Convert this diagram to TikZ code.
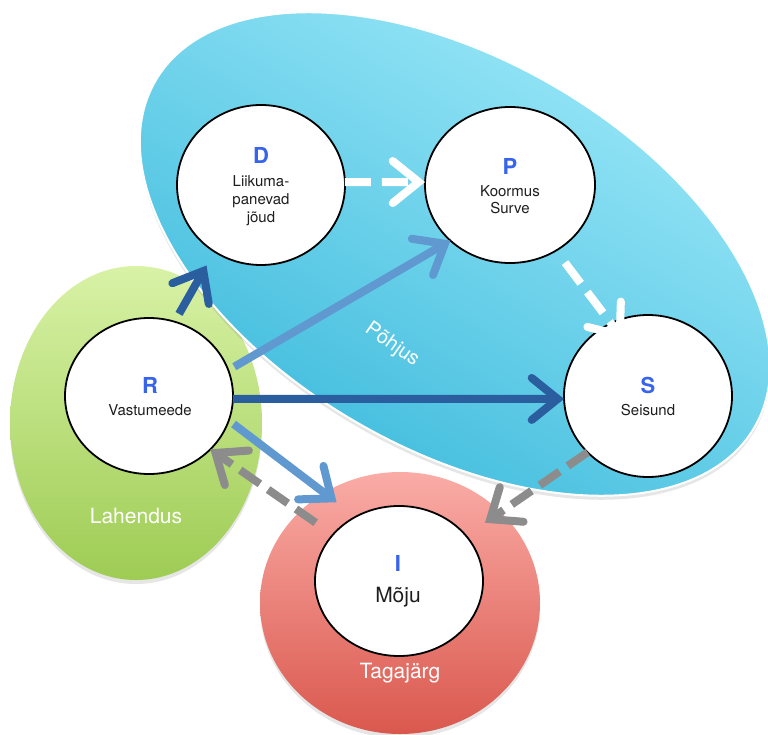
\documentclass[tikz,border=0pt]{standalone}
\usepackage{fontspec}
\setmainfont{TeX Gyre Heros}
\usetikzlibrary{arrows.meta,shapes.geometric,shadows}

\definecolor{causelight}{RGB}{160,234,249}
\definecolor{causedark}{RGB}{56,184,219}
\definecolor{solvelight}{RGB}{216,242,166}
\definecolor{solvedark}{RGB}{158,204,84}
\definecolor{effectlight}{RGB}{250,172,166}
\definecolor{effectdark}{RGB}{218,88,78}
\definecolor{letterblue}{RGB}{55,100,235}
\definecolor{labelgray}{RGB}{30,30,30}
\definecolor{darkarrow}{RGB}{42,94,158}
\definecolor{lightarrow}{RGB}{96,152,208}
\definecolor{grayarrow}{RGB}{140,140,140}

\begin{document}
\begin{tikzpicture}[x=1pt,y=1pt,
  ring/.style={ellipse, draw=black, line width=1.8pt, fill=white,
    inner sep=0pt, outer sep=0pt},
  letter/.style={font=\fontsize{22}{22}\selectfont\bfseries, text=letterblue},
  caption/.style={font=\fontsize{15}{18}\selectfont, text=labelgray, anchor=base},
  zone/.style={font=\fontsize{21}{21}\selectfont, text=white, anchor=base},
  softshadow/.style={drop shadow={opacity=0.2, shadow xshift=0pt, shadow yshift=-4pt}},
  flow/.style={line width=8pt,
    -{Straight Barb[length=26pt,width=42pt,line cap=round,line join=miter]}},
  dashflow/.style={flow, dash pattern=on 26pt off 11pt},
]
\useasboundingbox (0,0) rectangle (768,-735);

% solution zone
\path[softshadow, top color=solvelight, bottom color=solvedark]
  (136,-423) ellipse [x radius=126, y radius=157];

% cause zone
\path[softshadow, draw=white, line width=2pt,
      top color=causelight, bottom color=causedark, shading angle=-30]
  (455,-254) ellipse [x radius=346, y radius=195, rotate=-30];

% consequence zone
\path[softshadow, top color=effectlight, bottom color=effectdark]
  (400,-603) ellipse [x radius=140, y radius=131];

% DPSIR elements
\node[ring, minimum width=168pt, minimum height=160pt] (D) at (261,-185) {};
\node[ring, minimum width=170pt, minimum height=156pt] (P) at (510,-185) {};
\node[ring, minimum width=168pt, minimum height=156pt] (R) at (149,-396) {};
\node[ring, minimum width=168pt, minimum height=162pt] (S) at (648,-396) {};
\node[ring, minimum width=168pt, minimum height=150pt] (I) at (399,-581) {};

\node[letter] (Dl) at (261,-155) {D};
\node[caption] (Dt1) at (261,-187) {Liikuma-};
\node[caption] (Dt2) at (261,-205) {panevad};
\node[caption] (Dt3) at (261,-223) {jõud};

\node[letter] (Pl) at (510,-166) {P};
\node[caption] (Pt1) at (510,-197) {Koormus};
\node[caption] (Pt2) at (510,-214) {Surve};

\node[letter] (Rl) at (150,-385) {R};
\node[caption] (Rt) at (150,-415) {Vastumeede};

\node[letter] (Sl) at (648,-385) {S};
\node[caption] (St) at (648,-415) {Seisund};

\node[letter] (Il) at (398,-563) {I};
\node[font=\fontsize{21}{21}\selectfont, text=labelgray, anchor=base] (It) at (398,-602) {Mõju};

% zone labels
\node[zone] (lah) at (136,-523) {Lahendus};
\node[zone] (tag) at (400,-678) {Tagajärg};
\node[font=\fontsize{20}{20}\selectfont, text=white, rotate=-35] (poh) at (392,-345) {Põhjus};

% responses
\draw[flow, draw=darkarrow, shorten <=9pt, shorten >=16pt] (R.71) -- (D.235);
\draw[flow, draw=lightarrow, shorten <=7pt] (R.18) -- (P.223.5);
\draw[flow, draw=darkarrow] (R.-2) -- (S.182);
\draw[flow, draw=lightarrow, shorten <=6pt, shorten >=24pt] (R.-17) -- (I.124);

% causal chain
\draw[dashflow, draw=white] (D.2) -- (P.178);
\draw[dashflow, draw=white, shorten <=15pt, shorten >=-21pt] (P.-55) -- (S.117.4);

% feedback
\draw[dashflow, draw=grayarrow, dash pattern=on 24pt off 10pt, shorten <=21pt]
  (I.145) -- (R.-41.4);
\draw[dashflow, draw=grayarrow, dash pattern=on 24pt off 10pt, shorten >=23pt]
  (S.223) -- (I.34);
\end{tikzpicture}
\end{document}
